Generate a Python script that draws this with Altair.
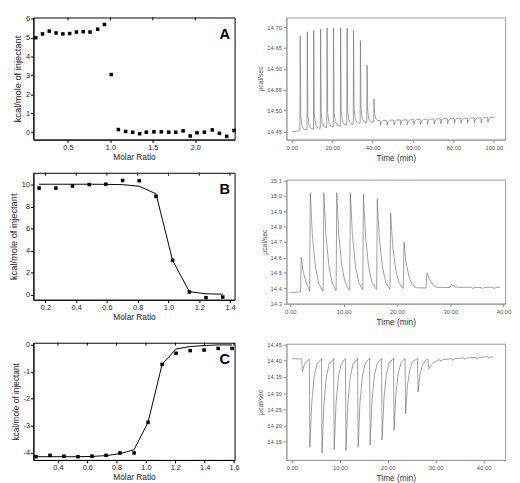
import altair as alt
import pandas as pd

FONT = "Liberation Sans"

# ---------------- Panel A (isotherm) ----------------
A_ratio = [0.12, 0.20, 0.28, 0.36, 0.44, 0.52, 0.60, 0.68, 0.76, 0.85, 0.93, 1.01,
           1.094, 1.18, 1.262, 1.345, 1.423, 1.513, 1.60, 1.687, 1.77, 1.856, 1.94,
           2.02, 2.107, 2.20, 2.284, 2.37, 2.456]
A_kcal = [5.0, 5.2, 5.35, 5.25, 5.2, 5.22, 5.3, 5.32, 5.3, 5.45, 5.7, 3.05,
          0.14, 0.04, 0.0, -0.08, 0.0, 0.02, 0.02, 0.0, 0.0, 0.07, -0.2,
          -0.03, 0.0, 0.12, -0.06, -0.22, 0.09]
A_xticks = [0.5, 1.0, 1.5, 2.0]
A_yticks = [0, 1, 2, 3, 4, 5, 6]

# ---------------- Panel B (isotherm + fit) ----------------
B_ratio = [0.159, 0.268, 0.376, 0.485, 0.593, 0.702, 0.81, 0.919, 1.027, 1.136, 1.244, 1.353]
B_kcal = [9.71, 9.71, 9.9, 10.03, 10.06, 10.4, 10.38, 8.96, 3.13, 0.26, -0.26, -0.2]
B_fit = [10.06, 10.06, 10.06, 10.06, 10.05, 10.02, 9.88, 9.19, 3.13, 0.29, 0.09, 0.06]
B_xticks = [0.2, 0.4, 0.6, 0.8, 1.0, 1.2, 1.4]
B_yticks = [0, 2, 4, 6, 8, 10]

# ---------------- Panel C (isotherm + fit) ----------------
C_ratio = [0.25, 0.346, 0.441, 0.537, 0.632, 0.728, 0.823, 0.919, 1.014, 1.11,
           1.205, 1.301, 1.396, 1.492, 1.587]
C_kcal = [-4.14, -4.09, -4.12, -4.14, -4.12, -4.09, -4.0, -4.0, -2.87, -0.73,
          -0.32, -0.22, -0.2, -0.14, -0.14]
C_fit = [-4.14, -4.14, -4.14, -4.14, -4.13, -4.1, -4.03, -3.88, -2.87, -0.73,
         -0.16, -0.07, -0.035, -0.01, -0.01]
C_xticks = [0.4, 0.6, 0.8, 1.0, 1.2, 1.4, 1.6]
C_yticks = [0, -1, -2, -3, -4]

# ---------------- Thermogram A ----------------
TA_time = [0.0,
           4.0, 4.15, 4.45, 5.0, 6.0,
           7.5, 7.65, 7.95, 8.5, 9.5,
           10.7, 10.85, 11.15, 11.7, 12.7,
           14.1, 14.25, 14.55, 15.1, 16.1,
           17.3, 17.45, 17.75, 18.3, 19.3,
           20.5, 20.65, 20.95, 21.5, 22.5,
           24.0, 24.15, 24.45, 25.0, 26.0,
           27.2, 27.35, 27.65, 28.2, 29.2,
           30.4, 30.55, 30.85, 31.4, 32.4,
           33.8, 33.95, 34.25, 34.8, 35.8,
           37.1, 37.25, 37.55, 38.1, 39.1,
           40.5, 40.65, 40.95, 41.5, 42.5,
           43.7, 43.85, 44.3, 45.2,
           47.0, 47.15, 47.6, 48.5,
           50.4, 50.55, 51.0, 51.9,
           53.7, 53.85, 54.3, 55.2,
           57.0, 57.15, 57.6, 58.5,
           60.3, 60.45, 60.9, 61.8,
           63.6, 63.75, 64.2, 65.1,
           67.0, 67.15, 67.6, 68.5,
           70.3, 70.45, 70.9, 71.8,
           73.6, 73.75, 74.2, 75.1,
           77.0, 77.15, 77.6, 78.5,
           80.3, 80.45, 80.9, 81.8,
           83.6, 83.75, 84.2, 85.1,
           86.9, 87.05, 87.5, 88.4,
           90.2, 90.35, 90.8, 91.7,
           93.6, 93.75, 94.2, 95.1,
           96.9, 97.05, 97.5, 98.4,
           100.0]
TA_ucal = [14.450,
           14.452, 14.679, 14.487, 14.464, 14.455,
           14.454, 14.689, 14.489, 14.466, 14.457,
           14.456, 14.692, 14.491, 14.468, 14.459,
           14.458, 14.695, 14.493, 14.470, 14.461,
           14.460, 14.698, 14.495, 14.472, 14.463,
           14.462, 14.698, 14.497, 14.474, 14.465,
           14.464, 14.698, 14.499, 14.476, 14.467,
           14.466, 14.698, 14.501, 14.478, 14.469,
           14.468, 14.692, 14.503, 14.480, 14.471,
           14.470, 14.668, 14.505, 14.482, 14.473,
           14.471, 14.609, 14.502, 14.481, 14.473,
           14.473, 14.529, 14.495, 14.481, 14.476,
           14.477, 14.465, 14.473, 14.477,
           14.477, 14.465, 14.473, 14.477,
           14.478, 14.466, 14.474, 14.478,
           14.478, 14.466, 14.474, 14.478,
           14.478, 14.466, 14.474, 14.478,
           14.479, 14.467, 14.475, 14.479,
           14.479, 14.467, 14.475, 14.479,
           14.480, 14.468, 14.476, 14.480,
           14.480, 14.468, 14.476, 14.480,
           14.481, 14.469, 14.477, 14.481,
           14.481, 14.469, 14.477, 14.481,
           14.482, 14.470, 14.478, 14.482,
           14.482, 14.470, 14.478, 14.482,
           14.482, 14.470, 14.478, 14.482,
           14.483, 14.471, 14.479, 14.483,
           14.483, 14.471, 14.479, 14.483,
           14.484, 14.472, 14.480, 14.484,
           14.484]
TA_xticks = [0, 20, 40, 60, 80, 100]
TA_yticks = [14.45, 14.50, 14.55, 14.60, 14.65, 14.70]

# ---------------- Thermogram B ----------------
TB_time = [0.0, 1.8,
           1.94, 2.06, 2.44, 3.04, 3.54,
           3.64, 3.76, 4.14, 4.74, 5.34, 6.04,
           6.18, 6.30, 6.68, 7.28, 7.88, 8.50,
           8.60, 8.72, 9.10, 9.70, 10.30, 11.00,
           11.15, 11.27, 11.65, 12.25, 12.85, 13.50,
           13.60, 13.72, 14.10, 14.70, 15.30, 16.10,
           16.20, 16.32, 16.70, 17.30, 17.90, 18.60,
           18.70, 18.82, 19.20, 19.80, 20.40, 21.10,
           21.20, 21.32, 21.70, 22.30, 22.90, 23.60,
           25.45, 25.65, 26.10, 26.70, 27.40,
           30.00, 30.20, 30.80, 31.50,
           34.00, 34.20, 34.60, 35.80, 36.00, 36.40, 38.00, 38.20, 38.60, 39.40]
TB_ucal = [14.372, 14.376,
           14.376, 14.600, 14.504, 14.430, 14.392,
           14.380, 15.020, 14.745, 14.534, 14.431, 14.387,
           14.382, 15.020, 14.746, 14.535, 14.433, 14.388,
           14.385, 15.020, 14.747, 14.537, 14.436, 14.390,
           14.388, 15.020, 14.748, 14.540, 14.439, 14.392,
           14.390, 15.010, 14.743, 14.539, 14.440, 14.395,
           14.393, 14.980, 14.727, 14.534, 14.440, 14.398,
           14.396, 14.890, 14.678, 14.515, 14.436, 14.400,
           14.399, 14.700, 14.570, 14.470, 14.423, 14.403,
           14.402, 14.500, 14.460, 14.425, 14.406,
           14.405, 14.425, 14.410, 14.406,
           14.407, 14.398, 14.406, 14.405, 14.398, 14.405, 14.407, 14.397, 14.406, 14.407]
TB_xticks = [0, 10, 20, 30, 40]
TB_yticks = [14.3, 14.4, 14.5, 14.6, 14.7, 14.8, 14.9, 15.0, 15.1]

# ---------------- Thermogram C ----------------
TC_time = [0.0,
           2.05, 2.17, 2.55, 3.00, 3.50,
           3.63, 3.75, 4.13, 4.63, 5.23, 6.00,
           6.16, 6.28, 6.66, 7.16, 7.76, 8.55,
           8.70, 8.82, 9.20, 9.70, 10.30, 11.00,
           11.16, 11.28, 11.66, 12.16, 12.76, 13.55,
           13.70, 13.82, 14.20, 14.70, 15.30, 16.05,
           16.20, 16.32, 16.70, 17.20, 17.80, 18.55,
           18.70, 18.82, 19.20, 19.70, 20.30, 21.05,
           21.20, 21.32, 21.70, 22.20, 22.80, 23.45,
           23.60, 23.72, 24.10, 24.60, 25.20, 26.05,
           26.20, 26.32, 26.70, 27.20, 27.80, 28.30,
           28.40, 28.55, 29.00, 29.60, 30.40,
           30.90, 31.00, 31.50, 33.40, 33.50, 34.00, 35.90, 36.00, 36.50,
           38.40, 38.50, 39.00, 40.90, 41.00, 41.50, 41.90]
TC_ucal = [14.406,
           14.405, 14.366, 14.386, 14.397, 14.403,
           14.405, 14.133, 14.269, 14.351, 14.389, 14.403,
           14.406, 14.116, 14.261, 14.348, 14.389, 14.403,
           14.406, 14.126, 14.266, 14.350, 14.389, 14.404,
           14.406, 14.123, 14.265, 14.349, 14.389, 14.404,
           14.407, 14.133, 14.270, 14.352, 14.391, 14.405,
           14.407, 14.140, 14.274, 14.354, 14.391, 14.405,
           14.407, 14.156, 14.282, 14.357, 14.392, 14.405,
           14.407, 14.185, 14.296, 14.363, 14.394, 14.405,
           14.407, 14.236, 14.322, 14.373, 14.397, 14.405,
           14.406, 14.303, 14.355, 14.385, 14.400, 14.404,
           14.404, 14.375, 14.385, 14.395, 14.401,
           14.403, 14.398, 14.403, 14.406, 14.401, 14.406, 14.408, 14.404, 14.408,
           14.410, 14.406, 14.410, 14.412, 14.407, 14.411, 14.411]
TC_xticks = [0, 10, 20, 30, 40]
TC_yticks = [14.15, 14.20, 14.25, 14.30, 14.35, 14.40, 14.45]


def iso_panel(ratio, kcal, fit, xdom, ydom, xticks, yticks, letter, w, h, ytitle_size):
    pts = pd.DataFrame({"ratio": ratio, "kcal": kcal})
    xenc = alt.X("ratio:Q",
                 scale=alt.Scale(domain=xdom, nice=False, zero=False),
                 axis=alt.Axis(values=xticks, format=".1f", title="Molar Ratio",
                               grid=False, tickSize=3, tickColor="black", domainColor="black",
                               labelFontSize=7.5, titleFontSize=8.5, labelColor="#222",
                               titleColor="#222", labelPadding=1, titlePadding=2,
                               labelFlush=False, labelOverlap=False,
                               titleFontWeight="normal"))
    yenc = alt.Y("kcal:Q",
                 scale=alt.Scale(domain=ydom, nice=False, zero=False),
                 axis=alt.Axis(values=yticks, labelExpr="datum.value + ''",
                               title="kcal/mole of injectant",
                               grid=False, tickSize=3, tickColor="black", domainColor="black",
                               labelFontSize=7.5, titleFontSize=ytitle_size, labelColor="#222",
                               titleColor="#222", labelPadding=1, titlePadding=3,
                               labelFlush=False, labelOverlap=False,
                               titleFontWeight="normal"))
    layers = [alt.Chart(pts).mark_square(size=13, color="black", opacity=1).encode(x=xenc, y=yenc)]
    if fit is not None:
        fdf = pd.DataFrame({"ratio": ratio, "kcal": fit})
        layers.append(alt.Chart(fdf).mark_line(color="black", strokeWidth=1).encode(
            x=xenc, y=yenc))
    top_ticks = alt.Chart(pd.DataFrame({"ratio": xticks})).mark_rule(
        color="black", strokeWidth=1).encode(x=xenc, y=alt.value(0), y2=alt.value(3))
    lab = alt.Chart(pd.DataFrame({"label": [letter]})).mark_text(
        fontSize=15, fontWeight="bold", font=FONT, color="black",
        align="center", baseline="middle").encode(
        x=alt.value(w - 10), y=alt.value(17), text="label:N")
    layers += [top_ticks, lab]
    return alt.layer(*layers).properties(
        width=w, height=h, view=alt.ViewBackground(stroke="black", strokeWidth=1))


def thermo_panel(time, ucal, xdom, ydom, xticks, yticks, yfmt, w, h):
    df = pd.DataFrame({"time": time, "ucal": ucal})
    xenc = alt.X("time:Q", scale=alt.Scale(domain=xdom, nice=False, zero=False),
                 axis=alt.Axis(values=xticks, format=".2f", title="Time (min)",
                               grid=False, tickSize=3, tickColor="#888", domainColor="#999",
                               labelFontSize=6, titleFontSize=8.5, labelColor="#555",
                               titleColor="#333", labelPadding=2, titlePadding=3,
                               labelFlush=False, labelOverlap=False,
                               titleFontWeight="normal"))
    yenc = alt.Y("ucal:Q", scale=alt.Scale(domain=ydom, nice=False, zero=False),
                 axis=alt.Axis(values=yticks, format=yfmt, title="µcal/sec",
                               grid=False, tickSize=3, tickColor="#888", domainColor="#999",
                               labelFontSize=6, titleFontSize=7, labelColor="#555",
                               titleColor="#555", labelPadding=2, titlePadding=3,
                               labelFlush=False, labelOverlap=False,
                               titleFontWeight="normal"))
    return alt.Chart(df).mark_line(color="#777", strokeWidth=0.7).encode(
        x=xenc, y=yenc).properties(
        width=w, height=h, view=alt.ViewBackground(stroke="#999", strokeWidth=1))


pA = iso_panel(A_ratio, A_kcal, None, [0.093, 2.463], [-0.39, 6.07], A_xticks, A_yticks, "A", 206, 125, 9.5)
pB = iso_panel(B_ratio, B_kcal, B_fit, [0.122, 1.43], [-0.45, 11.1], B_xticks, B_yticks, "B", 206, 130, 9.5)
pC = iso_panel(C_ratio, C_kcal, C_fit, [0.233, 1.604], [-4.26, 0.07], C_xticks, C_yticks, "C", 206, 120, 8.5)

tA = thermo_panel(TA_time, TA_ucal, [-2.7, 105.6], [14.431, 14.723], TA_xticks, TA_yticks, ".2f", 224, 125)
tB = thermo_panel(TB_time, TB_ucal, [-0.73, 40.3], [14.30, 15.105], TB_xticks, TB_yticks, ".1f", 224, 127)
tC = thermo_panel(TC_time, TC_ucal, [-1.16, 44.5], [14.094, 14.452], TC_xticks, TC_yticks, ".2f", 224, 119)

left = alt.vconcat(alt.vconcat(pA, pB, spacing=10), pC, spacing=18)
right = alt.vconcat(alt.vconcat(tA, tB, spacing=15), tC, spacing=15)

chart = alt.hconcat(left, right, spacing=16).properties(
    padding={"left": 0, "top": 0, "right": 0, "bottom": 0}
).configure(font=FONT).configure_axis(grid=False)

chart.save("out.html", embed_options={"renderer": "svg", "actions": False})
